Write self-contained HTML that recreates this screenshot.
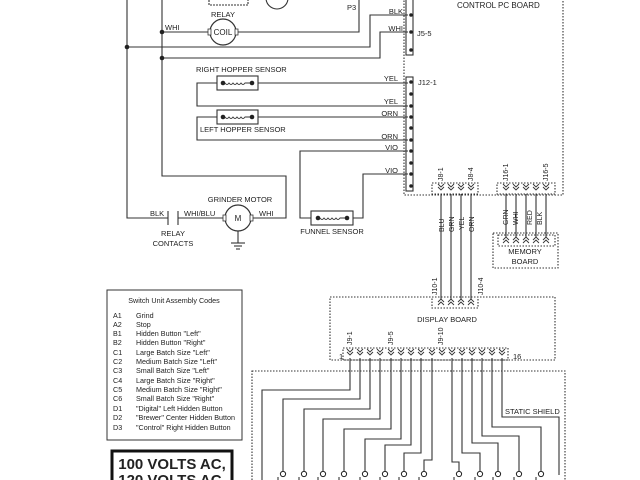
<!DOCTYPE html>
<html><head><meta charset="utf-8"><style>
html,body{margin:0;padding:0;background:#fff;width:640px;height:480px;overflow:hidden}
svg{display:block}
text{font-family:"Liberation Sans",sans-serif;fill:#222}
</style></head><body>
<svg width="640" height="480" viewBox="0 0 640 480" xmlns="http://www.w3.org/2000/svg">
<defs>
<g id="dn"><polyline points="-3,-3 0,0 3,-3" fill="none" stroke="#333" stroke-width="0.9"/><polyline points="-3,0 0,3 3,0" fill="none" stroke="#333" stroke-width="0.9"/></g>
<g id="up"><polyline points="-3,3 0,0 3,3" fill="none" stroke="#333" stroke-width="0.9"/><polyline points="-3,6 0,3 3,6" fill="none" stroke="#333" stroke-width="0.9"/></g>
<g id="term"><circle cx="0" cy="0" r="2.6" fill="#fff" stroke="#222" stroke-width="1"/><line x1="-5" y1="3" x2="-5" y2="8" stroke="#222" stroke-width="1"/><line x1="0" y1="2.6" x2="0" y2="8" stroke="#222" stroke-width="0"/></g>
</defs>
<g stroke="#333" stroke-width="1.1" fill="none">
<!-- left mains -->
<polyline points="127,0 127,218 168,218"/>
<polyline points="162,0 162,176 286,176 286,218 252,218"/>
<polyline points="178,218 225,218"/>
<line x1="168" y1="211" x2="168" y2="225"/><line x1="178" y1="211" x2="178" y2="225"/>
<polyline points="127,47 370,47 370,15 408,15"/>
<polyline points="162,58 380,58 380,32 408,32"/>
<polyline points="162,32 210,32"/><polyline points="236,32 359,32 359,0"/>
<!-- top fragments -->
<polyline points="209,0 209,5 248,5 248,0" stroke-dasharray="2,1"/>
<circle cx="277" cy="-2" r="11"/>
<!-- sensors -->
<polyline points="408,83 197,83 197,106 408,106"/>
<polyline points="408,117 197,117 197,140 408,140"/>
<polyline points="408,151 300,151 300,218 311,218"/>
<polyline points="353,218 363,218 363,174 408,174"/>
<rect x="217" y="76" width="41" height="14" fill="#fff"/>
<rect x="217" y="110" width="41" height="14" fill="#fff"/>
<rect x="311" y="211" width="42" height="14" fill="#fff"/>
<!-- connectors -->
<rect x="406" y="-2" width="7" height="57"/>
<rect x="406" y="77" width="7" height="114"/>
<!-- control board -->
<rect x="404" y="-5" width="159" height="200" stroke-dasharray="1.5,1.5"/>
<rect x="432" y="183" width="46" height="11" stroke-dasharray="1.5,1.5"/>
<rect x="497" y="183" width="58" height="11" stroke-dasharray="1.5,1.5"/>
<!-- memory -->
<rect x="493" y="233" width="65" height="35" stroke-dasharray="1.5,1.5"/>
<rect x="498" y="235" width="57" height="11" stroke-dasharray="1.5,1.5"/>
<!-- display -->
<rect x="330" y="297" width="225" height="63" stroke-dasharray="1.5,1.5"/>
<rect x="432" y="297" width="46" height="11" stroke-dasharray="1.5,1.5"/>
<rect x="343" y="348" width="165" height="12" stroke-dasharray="1.5,1.5"/>
<!-- switch unit -->
<rect x="252" y="371" width="313" height="115" stroke-dasharray="1.5,1.5"/>
<!-- bus wires -->
<line x1="441" y1="194" x2="441" y2="299"/><line x1="451" y1="194" x2="451" y2="299"/>
<line x1="461" y1="194" x2="461" y2="299"/><line x1="471" y1="194" x2="471" y2="299"/>
<line x1="506" y1="194" x2="506" y2="237"/><line x1="516" y1="194" x2="516" y2="237"/>
<line x1="526" y1="194" x2="526" y2="237"/><line x1="536" y1="194" x2="536" y2="237"/>
<line x1="546" y1="194" x2="546" y2="237"/>
<!-- bottom wires -->
<polyline points="350,358 350,390 262,390 262,480"/>
<polyline points="360,358 360,399 283,399 283,472"/>
<polyline points="370,358 370,409 304,409 304,472"/>
<polyline points="380,358 380,419 323,419 323,472"/>
<polyline points="391,358 391,429 344,429 344,472"/>
<polyline points="401,358 401,439 365,439 365,472"/>
<polyline points="411,358 411,445 385,445 385,472"/>
<polyline points="421,358 421,453 404,453 404,472"/>
<polyline points="432,358 432,460 424,460 424,472"/>
<polyline points="452,358 452,462 459,462 459,472"/>
<polyline points="462,358 462,453 480,453 480,472"/>
<polyline points="472,358 472,443 498,443 498,472"/>
<polyline points="482,358 482,436 519,436 519,472"/>
<polyline points="492,358 492,427 541,427 541,472"/>
<polyline points="502,358 502,417 559,417 559,475"/>
<!-- legend box -->
<rect x="107" y="290" width="135" height="150" stroke-width="1"/>
<rect x="112" y="451" width="120" height="40" stroke="#111" stroke-width="3"/>
<!-- motor ground -->
<line x1="238" y1="231" x2="238" y2="243"/>
<line x1="231" y1="243" x2="245" y2="243"/><line x1="234" y1="246" x2="242" y2="246"/><line x1="236" y1="249" x2="240" y2="249"/>
</g>
<!-- coil & motor -->
<circle cx="223" cy="32" r="13" fill="#fff" stroke="#333" stroke-width="1.2"/>
<rect x="208" y="29" width="3" height="6" fill="#fff" stroke="#333" stroke-width="0.8"/>
<rect x="235" y="29" width="3" height="6" fill="#fff" stroke="#333" stroke-width="0.8"/>
<text x="223" y="35" font-size="8" text-anchor="middle">COIL</text>
<circle cx="238" cy="218" r="13" fill="#fff" stroke="#333" stroke-width="1.2"/>
<rect x="223" y="215" width="3" height="6" fill="#fff" stroke="#333" stroke-width="0.8"/>
<rect x="250" y="215" width="3" height="6" fill="#fff" stroke="#333" stroke-width="0.8"/>
<text x="238" y="221" font-size="8" text-anchor="middle">M</text>
<!-- sensor coils -->
<g fill="#222">
<circle cx="223" cy="83" r="2.3"/><circle cx="252" cy="83" r="2.3"/>
<circle cx="223" cy="117" r="2.3"/><circle cx="252" cy="117" r="2.3"/>
<circle cx="318" cy="218" r="2.3"/><circle cx="347" cy="218" r="2.3"/>
<circle cx="127" cy="47" r="2.3"/><circle cx="162" cy="32" r="2.3"/><circle cx="162" cy="58" r="2.3"/>
<circle cx="411" cy="15" r="1.8"/><circle cx="411" cy="32" r="1.8"/><circle cx="411" cy="50" r="1.8"/>
<circle cx="411" cy="82" r="1.8"/><circle cx="411" cy="94" r="1.8"/><circle cx="411" cy="106" r="1.8"/><circle cx="411" cy="117" r="1.8"/><circle cx="411" cy="128" r="1.8"/><circle cx="411" cy="140" r="1.8"/><circle cx="411" cy="151" r="1.8"/><circle cx="411" cy="163" r="1.8"/><circle cx="411" cy="174" r="1.8"/><circle cx="411" cy="186" r="1.8"/>
</g>
<g fill="none" stroke="#333" stroke-width="0.9">
<path d="M225,83 q2,3 4,0 q2,3 4,0 q2,3 4,0 q2,3 4,0 q2,3 4,0 l5,0"/>
<path d="M225,117 q2,3 4,0 q2,3 4,0 q2,3 4,0 q2,3 4,0 q2,3 4,0 l5,0"/>
<path d="M320,218 q2,3 4,0 q2,3 4,0 q2,3 4,0 q2,3 4,0 q2,3 4,0 l5,0"/>
</g>
<!-- chevrons -->
<use href="#dn" x="441" y="187"/><use href="#dn" x="451" y="187"/><use href="#dn" x="461" y="187"/><use href="#dn" x="471" y="187"/>
<use href="#dn" x="506" y="187"/><use href="#dn" x="516" y="187"/><use href="#dn" x="526" y="187"/><use href="#dn" x="536" y="187"/><use href="#dn" x="546" y="187"/>
<use href="#up" x="506" y="237"/><use href="#up" x="516" y="237"/><use href="#up" x="526" y="237"/><use href="#up" x="536" y="237"/><use href="#up" x="546" y="237"/>
<use href="#up" x="441" y="299"/><use href="#up" x="451" y="299"/><use href="#up" x="461" y="299"/><use href="#up" x="471" y="299"/>
<g>
<use href="#dn" x="350" y="352"/><use href="#dn" x="360" y="352"/><use href="#dn" x="370" y="352"/><use href="#dn" x="380" y="352"/><use href="#dn" x="391" y="352"/><use href="#dn" x="401" y="352"/><use href="#dn" x="411" y="352"/><use href="#dn" x="421" y="352"/><use href="#dn" x="432" y="352"/><use href="#dn" x="442" y="352"/><use href="#dn" x="452" y="352"/><use href="#dn" x="462" y="352"/><use href="#dn" x="472" y="352"/><use href="#dn" x="482" y="352"/><use href="#dn" x="492" y="352"/><use href="#dn" x="502" y="352"/>
</g>
<!-- terminals -->
<use href="#term" x="283" y="474"/><use href="#term" x="304" y="474"/><use href="#term" x="323" y="474"/><use href="#term" x="344" y="474"/><use href="#term" x="365" y="474"/><use href="#term" x="385" y="474"/><use href="#term" x="404" y="474"/><use href="#term" x="424" y="474"/><use href="#term" x="459" y="474"/><use href="#term" x="480" y="474"/><use href="#term" x="498" y="474"/><use href="#term" x="519" y="474"/><use href="#term" x="541" y="474"/>
<!-- labels -->
<g font-size="7.5">
<text x="223" y="17" text-anchor="middle">RELAY</text>
<text x="347" y="10">P3</text>
<text x="165" y="30">WHI</text>
<text x="457" y="8" font-size="8">CONTROL PC BOARD</text>
<text x="403" y="14" text-anchor="end">BLK</text>
<text x="403" y="31" text-anchor="end">WHI</text>
<text x="417" y="36">J5-5</text>
<text x="418" y="85">J12-1</text>
<text x="196" y="72">RIGHT HOPPER SENSOR</text>
<text x="200" y="132">LEFT HOPPER SENSOR</text>
<text x="398" y="81" text-anchor="end">YEL</text>
<text x="398" y="104" text-anchor="end">YEL</text>
<text x="398" y="116" text-anchor="end">ORN</text>
<text x="398" y="139" text-anchor="end">ORN</text>
<text x="398" y="150" text-anchor="end">VIO</text>
<text x="398" y="173" text-anchor="end">VIO</text>
<text x="240" y="202" text-anchor="middle">GRINDER MOTOR</text>
<text x="150" y="216">BLK</text>
<text x="184" y="216">WHI/BLU</text>
<text x="259" y="216">WHI</text>
<text x="173" y="236" text-anchor="middle">RELAY</text>
<text x="173" y="246" text-anchor="middle">CONTACTS</text>
<text x="332" y="234" text-anchor="middle">FUNNEL SENSOR</text>
<text x="525" y="254" text-anchor="middle">MEMORY</text>
<text x="525" y="264" text-anchor="middle">BOARD</text>
<text x="447" y="322" text-anchor="middle">DISPLAY BOARD</text>
<text x="339" y="359">1</text>
<text x="513" y="359">16</text>
<text x="505" y="414">STATIC SHIELD</text>
</g>
<g font-size="7">
<text transform="translate(443,181) rotate(-90)">J8-1</text>
<text transform="translate(473,181) rotate(-90)">J8-4</text>
<text transform="translate(508,181) rotate(-90)">J16-1</text>
<text transform="translate(548,181) rotate(-90)">J16-5</text>
<text transform="translate(444,232) rotate(-90)">BLU</text>
<text transform="translate(454,232) rotate(-90)">GRN</text>
<text transform="translate(464,230) rotate(-90)">YEL</text>
<text transform="translate(474,232) rotate(-90)">ORN</text>
<text transform="translate(508,225) rotate(-90)">GRN</text>
<text transform="translate(518,225) rotate(-90)">WHI</text>
<text transform="translate(532,225) rotate(-90)">RED</text>
<text transform="translate(542,225) rotate(-90)">BLK</text>
<text transform="translate(437,295) rotate(-90)">J10-1</text>
<text transform="translate(483,295) rotate(-90)">J10-4</text>
<text transform="translate(352,345) rotate(-90)">J9-1</text>
<text transform="translate(393,345) rotate(-90)">J9-5</text>
<text transform="translate(443,345) rotate(-90)">J9-10</text>
</g>
<g font-size="7.2">
<text x="174" y="303" text-anchor="middle">Switch Unit Assembly Codes</text>
<text x="113" y="318">A1</text><text x="136" y="318">Grind</text>
<text x="113" y="327">A2</text><text x="136" y="327">Stop</text>
<text x="113" y="336">B1</text><text x="136" y="336">Hidden Button "Left"</text>
<text x="113" y="345">B2</text><text x="136" y="345">Hidden Button "Right"</text>
<text x="113" y="355">C1</text><text x="136" y="355">Large Batch Size "Left"</text>
<text x="113" y="364">C2</text><text x="136" y="364">Medium Batch Size "Left"</text>
<text x="113" y="373">C3</text><text x="136" y="373">Small Batch Size "Left"</text>
<text x="113" y="383">C4</text><text x="136" y="383">Large Batch Size "Right"</text>
<text x="113" y="392">C5</text><text x="136" y="392">Medium Batch Size "Right"</text>
<text x="113" y="401">C6</text><text x="136" y="401">Small Batch Size "Right"</text>
<text x="113" y="411">D1</text><text x="136" y="411">"Digital" Left Hidden Button</text>
<text x="113" y="420">D2</text><text x="136" y="420">"Brewer" Center Hidden Button</text>
<text x="113" y="430">D3</text><text x="136" y="430">"Control" Right Hidden Button</text>
</g>
<text x="172" y="469" font-size="15" font-weight="bold" text-anchor="middle" fill="#111">100 VOLTS AC,</text>
<text x="172" y="485" font-size="15" font-weight="bold" text-anchor="middle" fill="#111">120 VOLTS AC,</text>
</svg>
</body></html>
